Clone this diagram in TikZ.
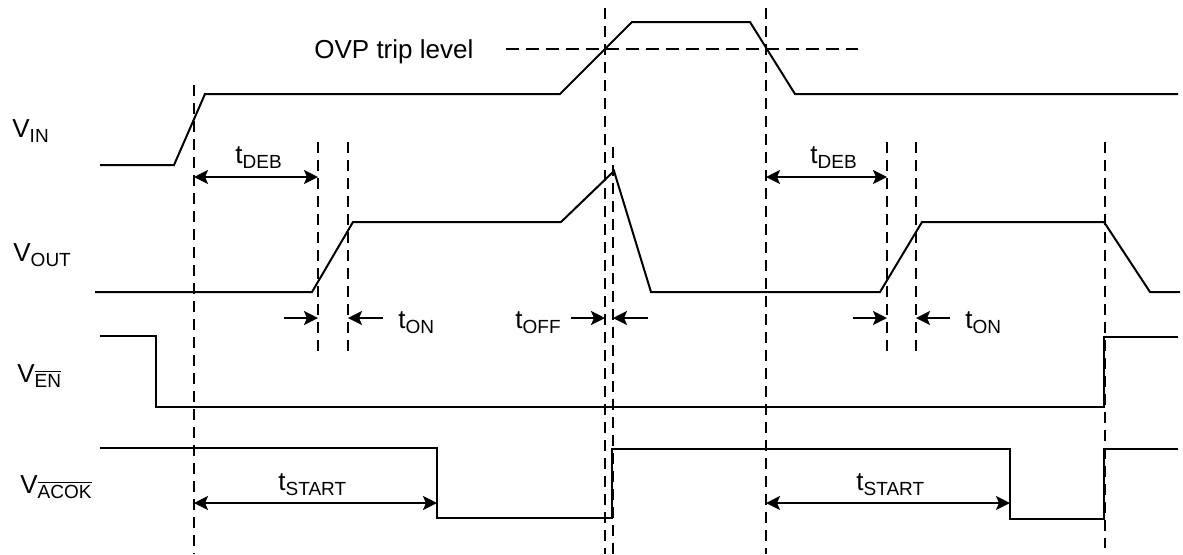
\documentclass[tikz,border=0pt]{standalone}
\usepackage{fontspec}
\setmainfont{Liberation Sans}
\usetikzlibrary{arrows.meta}

\newcommand{\lo}[1]{\raisebox{-2.5pt}{\fontsize{9.5}{9.5}\selectfont #1}}
\newcommand{\ovl}[1]{$\overline{\mbox{#1}}$}

\begin{document}
\begin{tikzpicture}[x=0.5pt,y=-0.5pt,font=\fontsize{13}{15}\selectfont,
  lbl/.style={inner sep=0pt,anchor=base west},
  wave/.style={line width=1pt,line join=miter},
  guide/.style={line width=1pt,dash pattern=on 5.5pt off 3.5pt},
  span/.style={line width=1pt,{Stealth[length=7pt,width=7pt,inset=1.5pt]}-{Stealth[length=7pt,width=7pt,inset=1.5pt]}},
  tip/.style={line width=1pt,-{Stealth[length=7pt,width=7pt,inset=1.5pt]}}]
\useasboundingbox (0,0) rectangle (1183,554);

% signal names
\node[lbl] (vin) at (12,137) {V\lo{IN}};
\node[lbl] (vout) at (13,261) {V\lo{OUT}};
\node[lbl] (ven) at (17,382) {V\lo{\ovl{EN}}};
\node[lbl] (vacok) at (20,493) {V\lo{\ovl{ACOK}}};

% time marks
\foreach \x/\a/\b/\n in {194/85/554/ta, 318/142/351/tb, 348/142/351/tc,
  605/8/554/td, 613/147/554/te, 766/8/554/tf, 887/142/351/tg,
  916/142/351/th, 1105/142/548/ti}
{
  \coordinate (\n) at (\x,0);
  \draw[guide] (\x,\a) -- (\x,\b);
}
\coordinate (tk) at (437,0);
\coordinate (tl) at (1010,0);

% OVP level
\node[lbl] (ovp) at (314,58) {OVP trip level};
\draw[guide,dash pattern=on 6.5pt off 3.5pt] (506,49) -- (858,49);

% waveforms
\draw[wave] (100,165) -- (174,165) -- (205,94) -- (560,94) -- (632,22)
  -- (750,22) -- (795,94) -- (1178,94);
\draw[wave] (95,292) -- (312,292) -- (353,222) -- (561,222) -- (614,171)
  -- (651,292) -- (880,292) -- (922,222) -- (1104,222) -- (1150,292) -- (1180,292);
\draw[wave] (100,336) -- (156,336) -- (156,407) -- (1104,407) -- (1104,337)
  -- (1178,337);
\draw[wave] (100,448) -- (437,448) -- (437,518) -- (612,518) -- (612,449)
  -- (1010,449) -- (1010,519) -- (1104,519) -- (1104,449) -- (1178,449);

% rows of the timing arrows
\coordinate (rdeb) at (0,177);
\coordinate (ron) at (0,318);
\coordinate (rstart) at (0,503);

\draw[span] (ta |- rdeb) -- (tb |- rdeb);
\node[lbl] (deb1) at (235,163) {t\lo{DEB}};
\draw[span] (tf |- rdeb) -- (tg |- rdeb);
\node[lbl] (deb2) at (810,163) {t\lo{DEB}};

\coordinate (on1a) at (284,318);
\coordinate (on1b) at (383,318);
\draw[tip] (on1a) -- (tb |- ron);
\draw[tip] (on1b) -- (tc |- ron);
\node[lbl] (on1) at (398,328) {t\lo{ON}};

\coordinate (offa) at (571,318);
\coordinate (offb) at (648,318);
\draw[tip] (offa) -- (td |- ron);
\draw[tip] (offb) -- (te |- ron);
\node[lbl] (off) at (515,328) {t\lo{OFF}};

\coordinate (on2a) at (853,318);
\coordinate (on2b) at (950,318);
\draw[tip] (on2a) -- (tg |- ron);
\draw[tip] (on2b) -- (th |- ron);
\node[lbl] (on2) at (965,328) {t\lo{ON}};

\draw[span] (ta |- rstart) -- (tk |- rstart);
\node[lbl] (start1) at (278,490) {t\lo{START}};
\draw[span] (tf |- rstart) -- (tl |- rstart);
\node[lbl] (start2) at (856,490) {t\lo{START}};

\end{tikzpicture}
\end{document}
